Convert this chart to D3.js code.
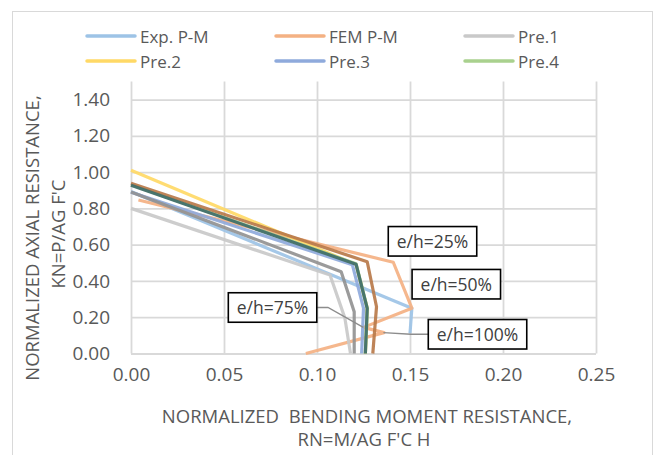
<!DOCTYPE html>
<html>
<head>
<meta charset="utf-8">
<script src="https://cdn.jsdelivr.net/npm/d3@7"></script>
<style>
  html, body { margin: 0; padding: 0; background: #ffffff; }
  svg { display: block; font-family: "Open Sans", "Noto Sans", sans-serif; }
  text { white-space: pre; }
</style>
</head>
<body>
<svg id="chart" width="656" height="455"></svg>
<script>
// ---------------- data ----------------
const seriesNames = ["Exp. P-M", "FEM P-M", "Pre.1", "Pre.2", "Pre.3", "Pre.4", "Pre.5", "Pre.6", "Pre.7"];
const seriesColors = ["#9DC3E6", "#F4B183", "#C9C9C9", "#FFD966", "#8FAADC", "#A9D18E", "#939393", "#B9794A", "#3F6D69"];
const legendCount = 6; // legend shows the first six entries

// normalized bending moment (x) and normalized axial load (y) for each series
const expM  = [0.000, 0.151, 0.150];
const expP  = [0.893, 0.249, 0.111];
const femM  = [0.004, 0.141, 0.151, 0.125, 0.136, 0.094];
const femP  = [0.846, 0.503, 0.250, 0.144, 0.115, 0.000];
const pre1M = [0.000, 0.107, 0.115, 0.118];
const pre1P = [0.800, 0.433, 0.195, 0.000];
const pre2M = [0.000, 0.121, 0.127, 0.126];
const pre2P = [1.010, 0.490, 0.250, 0.000];
const pre3M = [0.000, 0.119, 0.125, 0.124];
const pre3P = [0.889, 0.490, 0.250, 0.000];
const pre4M = [0.000, 0.121, 0.127, 0.126];
const pre4P = [0.930, 0.495, 0.250, 0.000];
const pre5M = [0.000, 0.113, 0.120, 0.120];
const pre5P = [0.890, 0.451, 0.230, 0.000];
const pre6M = [0.000, 0.127, 0.132, 0.130];
const pre6P = [0.938, 0.506, 0.258, 0.000];
const pre7M = [0.000, 0.121, 0.127, 0.126];
const pre7P = [0.927, 0.492, 0.249, 0.000];

const seriesM = [expM, femM, pre1M, pre2M, pre3M, pre4M, pre5M, pre6M, pre7M];
const seriesP = [expP, femP, pre1P, pre2P, pre3P, pre4P, pre5P, pre6P, pre7P];

const xTicks = [0, 0.05, 0.10, 0.15, 0.20, 0.25];
const yTicks = [0, 0.2, 0.4, 0.6, 0.8, 1.0, 1.2, 1.4];

const xTitle1 = "NORMALIZED  BENDING MOMENT RESISTANCE,";
const xTitle2 = "RN=M/AG F'C H";
const yTitle1 = "NORMALIZED AXIAL RESISTANCE,";
const yTitle2 = "KN=P/AG F'C";

// annotation boxes (centre in data units) and leader lines
const annoLabels = ["e/h=25%", "e/h=50%", "e/h=75%", "e/h=100%"];
const annoM = [0.1621, 0.1749, 0.0761, 0.1863];
const annoP = [0.6185, 0.382, 0.2536, 0.106];
const leader75M = [0.1249, 0.1059];
const leader75P = [0.144, 0.2536];
const leader100M = [0.1357, 0.1505];
const leader100P = [0.115, 0.106];

// ---------------- drawing ----------------
const svg = d3.select("#chart");
const textColor = "#595959";
const gridColor = "#D9D9D9";

// chart area border
svg.append("rect")
  .attr("x", 12.5).attr("y", 11.5).attr("width", 640).attr("height", 460)
  .attr("fill", "#fff").attr("stroke", "#D9D9D9").attr("stroke-width", 1);

const x = d3.scaleLinear().domain([0, 0.25]).range([131, 596]);
const y = d3.scaleLinear().domain([0, 1.5]).range([353.5, 81.4]);

// vertical gridlines + x tick labels
const xAxis = svg.append("g")
  .attr("transform", `translate(0,${y(0)})`)
  .call(d3.axisBottom(x).tickValues(xTicks).tickFormat(d3.format(".2f"))
        .tickSize(-(y(0) - y(1.5))).tickPadding(14));
xAxis.select(".domain").remove();
xAxis.selectAll(".tick line").attr("stroke", gridColor).attr("stroke-width", 1.8);
xAxis.selectAll(".tick text").attr("fill", textColor)
  .style("font-size", "19px").style("font-family", "'Open Sans'");

// horizontal gridlines + y tick labels
const yAxis = svg.append("g")
  .attr("transform", `translate(${x(0)},0)`)
  .call(d3.axisLeft(y).tickValues(yTicks).tickFormat(d3.format(".2f"))
        .tickSize(-(x(0.25) - x(0))).tickPadding(21));
yAxis.select(".domain").remove();
yAxis.selectAll(".tick line").attr("stroke", gridColor).attr("stroke-width", 1.8);
yAxis.selectAll(".tick text").attr("fill", textColor)
  .style("font-size", "19px").style("font-family", "'Open Sans'");

// axis titles
svg.append("text").attr("x", 367).attr("y", 415).attr("text-anchor", "middle")
  .attr("dominant-baseline", "central").attr("fill", textColor)
  .style("font-size", "18.5px").text(xTitle1);
svg.append("text").attr("x", 364).attr("y", 438).attr("text-anchor", "middle")
  .attr("dominant-baseline", "central").attr("fill", textColor)
  .style("font-size", "18.5px").text(xTitle2);
svg.append("text").attr("transform", "translate(31,238) rotate(-90)")
  .attr("text-anchor", "middle").attr("dominant-baseline", "central")
  .attr("fill", textColor).style("font-size", "18.5px").text(yTitle1);
svg.append("text").attr("transform", "translate(57,234) rotate(-90)")
  .attr("text-anchor", "middle").attr("dominant-baseline", "central")
  .attr("fill", textColor).style("font-size", "18.5px").text(yTitle2);

// legend (two rows of three)
const legend = svg.append("g");
seriesNames.slice(0, legendCount).forEach((name, i) => {
  const col = i % 3, row = Math.floor(i / 3);
  const lx = 87 + col * 189, ly = 36 + row * 25;
  legend.append("line")
    .attr("x1", lx).attr("x2", lx + 48).attr("y1", ly).attr("y2", ly)
    .attr("stroke", seriesColors[i]).attr("stroke-width", 3.5)
    .attr("stroke-linecap", "round");
  legend.append("text")
    .attr("x", lx + 53).attr("y", ly).attr("dominant-baseline", "central")
    .attr("fill", textColor).style("font-size", "17px").text(name);
});

// clip series to the plot area
svg.append("clipPath").attr("id", "plotclip").append("rect")
  .attr("x", x(0) - 5).attr("y", y(1.5)).attr("width", x(0.25) - x(0) + 10)
  .attr("height", y(0) - y(1.5) + 6);

// series lines
const line = d3.line().x(d => x(d[0])).y(d => y(d[1]));
const plotG = svg.append("g").attr("clip-path", "url(#plotclip)");
seriesNames.forEach((name, i) => {
  const pts = seriesM[i].map((m, j) => [m, seriesP[i][j]]);
  plotG.append("path")
    .datum(pts)
    .attr("d", line)
    .attr("fill", "none")
    .attr("stroke", seriesColors[i])
    .attr("stroke-width", 3.2)
    .attr("stroke-linejoin", "round")
    .attr("stroke-linecap", "butt")
    .attr("stroke-opacity", 0.92);
});

// annotation boxes
const boxes = [];
const annoG = svg.append("g");
annoLabels.forEach((lab, i) => {
  const g = annoG.append("g");
  const t = g.append("text")
    .attr("x", x(annoM[i])).attr("y", y(annoP[i]))
    .attr("text-anchor", "middle").attr("dominant-baseline", "central")
    .attr("fill", "#404040")
    .style("font-size", "17.5px")
    .text(lab);
  const bb = t.node().getBBox();
  const w = bb.width + 17, h = 29.5;
  const bx = x(annoM[i]) - w / 2, by = y(annoP[i]) - h / 2;
  g.insert("rect", "text")
    .attr("x", bx).attr("y", by).attr("width", w).attr("height", h)
    .attr("fill", "#fff").attr("stroke", "#000").attr("stroke-width", 1.6);
  boxes.push({x: bx, y: by, w: w, h: h});
});

// leader lines
const leaderColor = "#8C8C8C";
function drawLeader(ms, ps, endPx) {
  const pts = ms.map((m, j) => [x(m), y(ps[j])]);
  pts.push(endPx);
  annoG.insert("path", "g")
    .attr("d", d3.line()(pts))
    .attr("fill", "none").attr("stroke", leaderColor).attr("stroke-width", 1.3);
}
const b75 = boxes[2], b100 = boxes[3];
drawLeader(leader75M, leader75P, [b75.x + b75.w, b75.y + b75.h / 2]);
drawLeader(leader100M, leader100P, [b100.x, b100.y + b100.h / 2]);
</script>
</body>
</html>
